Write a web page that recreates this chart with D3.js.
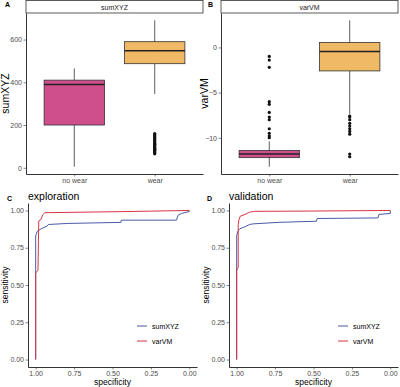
<!DOCTYPE html>
<html>
<head>
<meta charset="utf-8">
<script src="https://cdn.jsdelivr.net/npm/d3@7"></script>
<style>
  body { margin: 0; background: #fff; }
  svg { display: block; font-family: "Liberation Sans", Arial, sans-serif; }
  .tick text { fill: #4d4d4d; font-size: 7px; }
  .tick line { stroke: #333; stroke-width: 0.6; }
  .domain { stroke: #000; stroke-width: 0.8; }
</style>
</head>
<body>
<svg id="fig" width="400" height="387"></svg>
<script>
// box plot groups
const groups = ["no wear", "wear"];

// box stats per group: [lower whisker, q1, median, q3, upper whisker]
const sumXYZStats = [[5, 200, 390, 410, 465], [345, 487, 548, 590, 690]];
const sumXYZOutNoWear = [];
const sumXYZOutWear = [65, 70, 74, 78, 82, 86, 90, 94, 98, 102, 106, 110, 115, 120, 125, 130, 135, 140, 145, 150, 155, 160];

const varVMStats = [[-13.2, -12.2, -11.8, -11.4, -10.4], [-7.4, -2.6, -0.45, 0.55, 3.0]];
const varVMOutNoWear = [-1.0, -1.4, -2.2, -6.0, -6.3, -7.2, -7.7, -8.0, -9.0, -9.5, -9.8, -10.0];
const varVMOutWear = [-7.6, -7.7, -8.0, -8.4, -8.7, -9.0, -9.3, -9.6, -11.8, -12.1];

const sumXYZTicks = [0, 200, 400, 600];
const varVMTicks = [-10, -5, 0];

// ROC curves, [specificity, sensitivity]
const explSumXYZ = [[1, 0], [1, 0.83], [0.99, 0.86], [0.965, 0.877], [0.926, 0.895], [0.917, 0.906],
  [0.79, 0.913], [0.445, 0.92], [0.443, 0.935], [0.084, 0.935], [0.073, 0.968], [0.05, 0.98], [0, 0.993], [0, 1]];
const explVarVM = [[1, 0], [1, 0.58], [0.985, 0.6], [0.98, 0.93], [0.965, 0.94], [0.955, 0.97],
  [0.94, 0.985], [0.45, 0.992], [0, 1]];
const validSumXYZ = [[1, 0], [1, 0.83], [0.993, 0.86], [0.98, 0.877], [0.948, 0.89], [0.915, 0.906],
  [0.893, 0.91], [0.73, 0.92], [0.48, 0.928], [0.476, 0.946], [0.08, 0.95], [0.074, 0.973], [0, 0.98], [0, 1]];
const validVarVM = [[1, 0], [1, 0.6], [0.99, 0.62], [0.99, 0.906], [0.985, 0.94], [0.976, 0.962],
  [0.946, 0.973], [0.917, 0.988], [0.884, 0.994], [0.52, 0.996], [0, 1]];

const rocTicks = [1, 0.75, 0.5, 0.25, 0];
const seriesNames = ["sumXYZ", "varVM"];

const colNoWear = "#cf4f8c";
const colWear = "#efb966";
const colBlue = "#4a5aa6";
const colRed = "#d8343f";

const svg = d3.select("#fig");

function boxPanel(cfg) {
  const g = svg.append("g");

  const x = d3.scalePoint()
      .domain(groups)
      .range([cfg.left, cfg.right])
      .padding(0.6);
  const boxW = x.step() * 0.75;

  // y domain from data extent, expanded 5% like ggplot
  const all = cfg.stats.flat().concat(cfg.outliers.flat());
  const ext = d3.extent(all);
  const pad = (ext[1] - ext[0]) * 0.05;
  const y = d3.scaleLinear()
      .domain([ext[0] - pad, ext[1] + pad])
      .range([cfg.bottom, cfg.top]);

  // strip
  g.append("rect")
      .attr("x", cfg.left).attr("y", 0.5)
      .attr("width", cfg.right - cfg.left).attr("height", cfg.top - 0.5)
      .attr("fill", "#fff").attr("stroke", "#333").attr("stroke-width", 0.8);
  g.append("text")
      .attr("x", (cfg.left + cfg.right) / 2).attr("y", cfg.top - 3.5)
      .attr("text-anchor", "middle").attr("font-size", 7).attr("fill", "#1a1a1a")
      .text(cfg.name);

  // boxes
  groups.forEach((grp, i) => {
    const s = cfg.stats[i];
    const cx = x(grp);
    g.append("line")
        .attr("x1", cx).attr("x2", cx)
        .attr("y1", y(s[0])).attr("y2", y(s[4]))
        .attr("stroke", "#333").attr("stroke-width", 0.8);
    g.append("rect")
        .attr("x", cx - boxW / 2).attr("width", boxW)
        .attr("y", y(s[3])).attr("height", y(s[1]) - y(s[3]))
        .attr("fill", cfg.colors[i]).attr("stroke", "#333").attr("stroke-width", 0.8);
    g.append("line")
        .attr("x1", cx - boxW / 2).attr("x2", cx + boxW / 2)
        .attr("y1", y(s[2])).attr("y2", y(s[2]))
        .attr("stroke", "#222").attr("stroke-width", 1.5);
    g.selectAll(null)
        .data(cfg.outliers[i])
      .join("circle")
        .attr("cx", cx).attr("cy", d => y(d))
        .attr("r", 1.6).attr("fill", "#111");
  });

  // axes
  g.append("g")
      .attr("transform", `translate(${cfg.left},0)`)
      .call(d3.axisLeft(y).tickValues(cfg.ticks).tickSize(2.5).tickPadding(1.5).tickSizeOuter(0));
  g.append("g")
      .attr("transform", `translate(0,${cfg.bottom})`)
      .call(d3.axisBottom(x).tickSize(2.5).tickPadding(1.5).tickSizeOuter(0));

  g.append("text")
      .attr("transform", `translate(${cfg.titleX},${(cfg.top + cfg.bottom) / 2}) rotate(-90)`)
      .attr("text-anchor", "middle").attr("font-size", 10.5).attr("fill", "#000")
      .text(cfg.name);

  g.append("text")
      .attr("x", cfg.labelX).attr("y", 7)
      .attr("font-size", 7).attr("font-weight", "bold")
      .text(cfg.label);
}

function rocPanel(cfg) {
  const g = svg.append("g");

  const x = d3.scaleLinear().domain([1.05, -0.05]).range([cfg.left, cfg.right]);
  const y = d3.scaleLinear().domain([-0.05, 1.05]).range([cfg.bottom, cfg.top]);

  const line = d3.line()
      .x(d => x(d[0]))
      .y(d => y(d[1]));

  g.append("path").datum(cfg.series[0])
      .attr("d", line).attr("fill", "none")
      .attr("stroke", colBlue).attr("stroke-width", 1);
  g.append("path").datum(cfg.series[1])
      .attr("d", line).attr("fill", "none")
      .attr("stroke", colRed).attr("stroke-width", 1);

  const fmt = d3.format(".2f");
  g.append("g")
      .attr("transform", `translate(${cfg.left},0)`)
      .call(d3.axisLeft(y).tickValues(rocTicks).tickFormat(fmt).tickSize(2.5).tickPadding(1.5).tickSizeOuter(0));
  g.append("g")
      .attr("transform", `translate(0,${cfg.bottom})`)
      .call(d3.axisBottom(x).tickValues(rocTicks).tickFormat(fmt).tickSize(2.5).tickPadding(1.5).tickSizeOuter(0));

  // axis titles
  g.append("text")
      .attr("x", (cfg.left + cfg.right) / 2).attr("y", 385)
      .attr("text-anchor", "middle").attr("font-size", 8.5)
      .text("specificity");
  g.append("text")
      .attr("transform", `translate(${cfg.left - 20},${(cfg.top + cfg.bottom) / 2}) rotate(-90)`)
      .attr("text-anchor", "middle").attr("font-size", 8.5)
      .text("sensitivity");

  // title and panel label
  g.append("text")
      .attr("x", cfg.left).attr("y", 200)
      .attr("font-size", 10.5)
      .text(cfg.title);
  g.append("text")
      .attr("x", cfg.labelX).attr("y", 201)
      .attr("font-size", 7).attr("font-weight", "bold")
      .text(cfg.label);

  // legend
  const cols = [colBlue, colRed];
  seriesNames.forEach((name, i) => {
    const ly = 326 + i * 15;
    g.append("line")
        .attr("x1", cfg.left + 109).attr("x2", cfg.left + 119)
        .attr("y1", ly).attr("y2", ly)
        .attr("stroke", cols[i]).attr("stroke-width", 1);
    g.append("text")
        .attr("x", cfg.left + 124).attr("y", ly + 2.5)
        .attr("font-size", 7).attr("fill", "#000")
        .text(name);
  });
}

boxPanel({
  name: "sumXYZ", label: "A", labelX: 5, titleX: 9,
  left: 26, right: 203, top: 13, bottom: 174,
  stats: sumXYZStats, outliers: [sumXYZOutNoWear, sumXYZOutWear],
  ticks: sumXYZTicks, colors: [colNoWear, colWear]
});
boxPanel({
  name: "varVM", label: "B", labelX: 208, titleX: 208,
  left: 221, right: 398, top: 13, bottom: 174,
  stats: varVMStats, outliers: [varVMOutNoWear, varVMOutWear],
  ticks: varVMTicks, colors: [colNoWear, colWear]
});
rocPanel({
  title: "exploration", label: "C", labelX: 7,
  left: 28, right: 197, top: 203, bottom: 367,
  series: [explSumXYZ, explVarVM]
});
rocPanel({
  title: "validation", label: "D", labelX: 207,
  left: 229, right: 398, top: 203, bottom: 367,
  series: [validSumXYZ, validVarVM]
});
</script>
</body>
</html>
